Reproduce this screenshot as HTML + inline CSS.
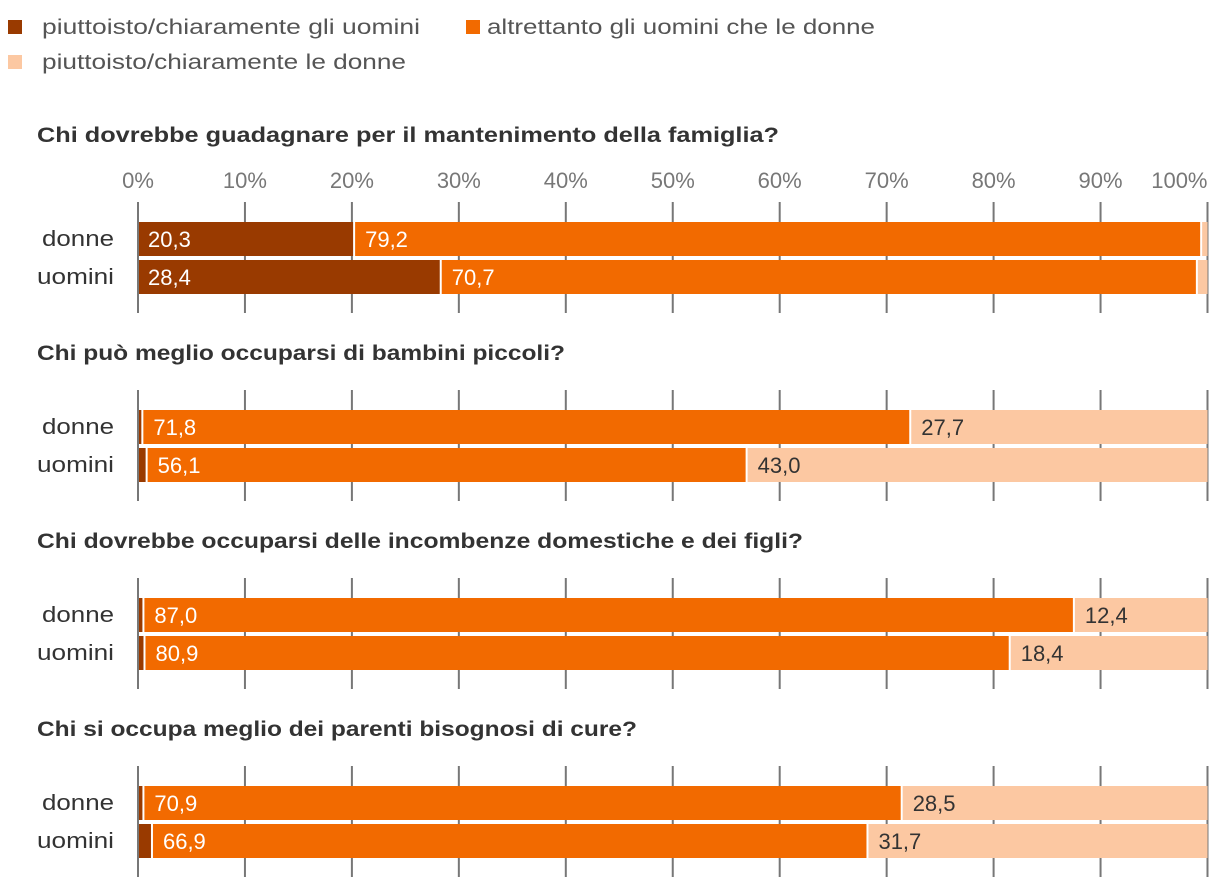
<!DOCTYPE html>
<html><head><meta charset="utf-8"><style>
body{margin:0;background:#fff;font-family:"Liberation Sans",sans-serif;}
svg text{font-family:"Liberation Sans",sans-serif;}
</style></head><body>
<svg id="chart" width="1220" height="888" xmlns="http://www.w3.org/2000/svg"></svg>
<script>
const questions=["Chi dovrebbe guadagnare per il mantenimento della famiglia?","Chi può meglio occuparsi di bambini piccoli?","Chi dovrebbe occuparsi delle incombenze domestiche e dei figli?","Chi si occupa meglio dei parenti bisognosi di cure?"];
const groups=["donne","uomini"];
const menValues=[[20.3,28.4],[0.5,0.9],[0.6,0.7],[0.6,1.4]];
const bothValues=[[79.2,70.7],[71.8,56.1],[87.0,80.9],[70.9,66.9]];
const womenValues=[[0.5,0.9],[27.7,43.0],[12.4,18.4],[28.5,31.7]];
const ticks=[0,10,20,30,40,50,60,70,80,90,100];
const seriesNames=["piuttoisto/chiaramente gli uomini","altrettanto gli uomini che le donne","piuttoisto/chiaramente le donne"];
const colors=["#993a00","#f26a00","#fcc8a2"];
const labelColors=["#fff","#fff","#333"];

const svg=document.getElementById('chart');
const NS="http://www.w3.org/2000/svg";
const x0=138,x1=1207.5;
const xs=v=>x0+(x1-x0)*v/100;
function mk(tag,attrs,parent){const e=document.createElementNS(NS,tag);for(const k in attrs)e.setAttribute(k,attrs[k]);(parent||svg).appendChild(e);return e;}

// legend
const legSq=[[8,27],[466,27],[8,62]];
const legTx=[42,487,42];
const legW=[378,388,364];
seriesNames.forEach((n,i)=>{
  const g=mk('g',{});
  
  
  mk('rect',{x:legSq[i][0],y:legSq[i][1]-7,width:14,height:14,fill:colors[i]},g);
  const t=mk('text',{x:legTx[i],y:legSq[i][1]+7,'font-size':21,fill:'#555',textLength:legW[i],lengthAdjust:'spacingAndGlyphs'},g);
  t.textContent=n;
});

// axis tick labels
ticks.forEach((v,i)=>{
  const t=mk('text',{x:v===100?x1:xs(v),y:188,'font-size':22,fill:'#777','text-anchor':v===100?'end':'middle'});
  
  
  t.textContent=v+'%';
});

const groupTop=[222,410,598,786];
const titleY=[142,360,548,736];
const titleW=[742,528,766,600];
questions.forEach((q,gi)=>{
  const t=mk('text',{x:37,y:titleY[gi],'font-size':21,'font-weight':'bold',fill:'#333',textLength:titleW[gi],lengthAdjust:'spacingAndGlyphs'});
  
  
  t.textContent=q;
  const top=groupTop[gi];
  ticks.forEach(v=>{
    const l=mk('line',{x1:xs(v),x2:xs(v),y1:top-20,y2:top+91,stroke:'#777','stroke-width':2});
    
    
  });
  groups.forEach((gn,ri)=>{
    const y=top+ri*38;
    const lab=mk('text',{x:114,y:y+24,'font-size':22,fill:'#333','text-anchor':'end',textLength:ri===0?72:77,lengthAdjust:'spacingAndGlyphs'});
    
    
    lab.textContent=gn;
    const vals=[menValues[gi][ri],bothValues[gi][ri],womenValues[gi][ri]];
    let acc=0;
    vals.forEach((v,si)=>{
      const xa=xs(acc),xb=xs(acc+v);
      const r=mk('rect',{x:xa,y:y,width:Math.max(0,xb-xa-(si<2?2:0)),height:34,fill:colors[si]});
      
      
      if(v>=5){
        const tl=mk('text',{x:xa+10,y:y+25,'font-size':22,fill:labelColors[si]});
        
        
        tl.textContent=v.toFixed(1).replace('.',',');
      }
      acc+=v;
    });
  });
  const ax=mk('line',{x1:x0,x2:x0,y1:top-20,y2:top+91,stroke:'#777','stroke-width':2});
  
  
});
</script>
</body></html>
